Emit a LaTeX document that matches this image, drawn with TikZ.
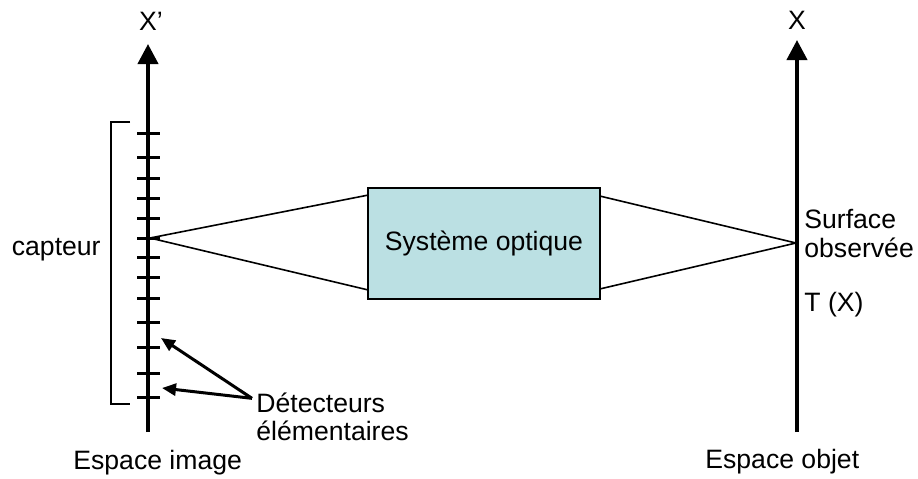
\documentclass[tikz,border=0pt]{standalone}
\usepackage{fontspec}
\setmainfont{Liberation Sans}
\usetikzlibrary{arrows.meta,positioning}
\definecolor{optblue}{RGB}{187,224,227}
\begin{document}
\begin{tikzpicture}[x=0.5pt,y=-0.5pt, every node/.style={font=\fontsize{13.3}{15}\selectfont,inner sep=0pt},
  axis/.style={line width=2pt,-{Triangle[length=10pt,width=10pt]}},
  tick/.style={line width=1.5pt}, ray/.style={line width=0.8pt},
  ptr/.style={line width=1.5pt,-{Triangle[length=7pt,width=6pt]}},
  optbox/.style={draw,fill=optblue,line width=0.75pt,minimum width=116pt,minimum height=55.5pt}]
\useasboundingbox (0,0) rectangle (918,478);
% axes
\coordinate (imgbot) at (148,432); \coordinate (imgtop) at (148,44);
\coordinate (objbot) at (797,432); \coordinate (objtop) at (797,40);
\draw[axis] (imgbot)--(imgtop); \draw[axis] (objbot)--(objtop);
\node[anchor=base] (xprime) at (151,30) {X’};
\node[anchor=base] (xobj) at (797,29) {X};
% detectors and sensor
\foreach \y in {133,157,178,198,218,238,257,277,298,322,347,373,397}
  \draw[tick] (137,\y)--(160,\y);
\draw[line width=1.25pt] (130,122)--(111,122)--(111,404)--(130,404);
\node[anchor=base east] (capt) at (101,255) {capteur};
% optical system
\node[optbox] (opt) at (484,243.5) {Système optique};
\coordinate (apexL) at (150,238); \coordinate (apexR) at (796,243);
\draw[ray] (apexL)--([yshift=-4pt]opt.north west); \draw[ray] (apexL)--([yshift=5pt]opt.south west);
\draw[ray] (apexR)--([yshift=-4.5pt]opt.north east); \draw[ray] (apexR)--([yshift=5.5pt]opt.south east);
\node[anchor=base west] (surf1) at (804,228) {Surface};
\node[anchor=base west] (surf2) at (804,257) {observée};
\node[anchor=base west] (tx) at (804,311) {T (X)};
% labels below
\node[anchor=base west] (det1) at (256,412) {Détecteurs};
\node[anchor=base west] (det2) at (256,440) {élémentaires};
\coordinate (tip1) at (161,338); \coordinate (tip2) at (162,388);
\draw[ptr] ([shift={(-2pt,2pt)}]det1.west)--(tip1); \draw[ptr] ([shift={(-2pt,2pt)}]det1.west)--(tip2);
\node[anchor=base west] (espimg) at (73,469) {Espace image};
\node[anchor=base west] (espobj) at (705,468) {Espace objet};
\end{tikzpicture}
\end{document}
